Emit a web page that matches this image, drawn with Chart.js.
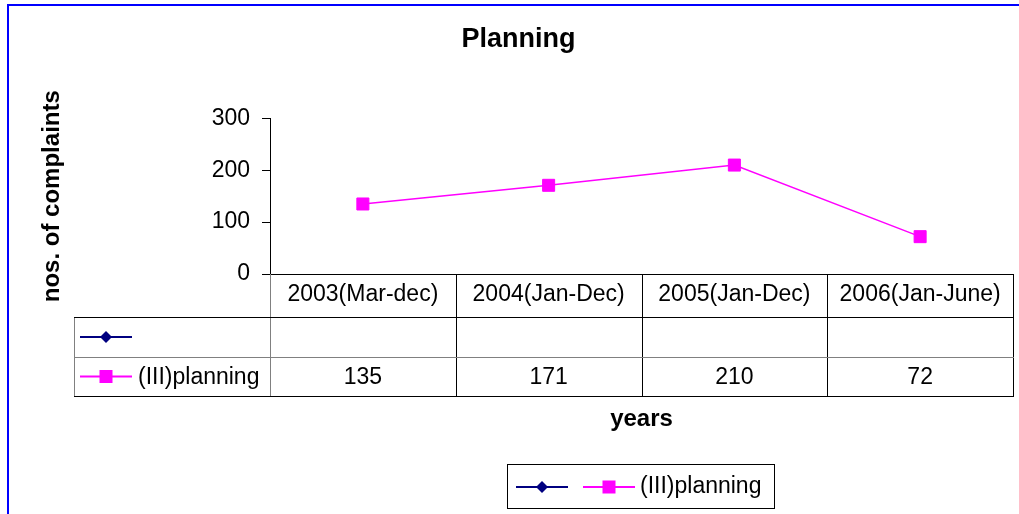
<!DOCTYPE html>
<html>
<head>
<meta charset="utf-8">
<title>Planning</title>
<script src="https://cdn.jsdelivr.net/npm/chart.js@4"></script>
<style>
  html, body { margin: 0; padding: 0; background: #fff; }
  #wrap { width: 1019px; height: 514px; }
</style>
</head>
<body>
<div id="wrap"><canvas id="chart" width="1019" height="514"></canvas></div>
<script>
// data
let periods = ['2003(Mar-dec)', '2004(Jan-Dec)', '2005(Jan-Dec)', '2006(Jan-June)']
let blankSeries = []            // empty series, only its marker shows
let planning = [135, 171, 210, 72]
let yTicks = [0, 100, 200, 300]

const FONT = '"Liberation Sans", Arial, sans-serif'
const NAVY = '#000080'
const MAGENTA = '#ff00ff'

// line + marker swatch like the excel legend keys
function drawKey(c, ds, cx, cy) {
    c.save()
    c.strokeStyle = ds.borderColor
    c.lineWidth = 2
    c.beginPath()
    c.moveTo(cx - 26, cy)
    c.lineTo(cx + 26, cy)
    c.stroke()
    c.fillStyle = ds.pointBackgroundColor
    if (ds.pointStyle == 'rectRot') {
        c.beginPath()
        c.moveTo(cx, cy - 6)
        c.lineTo(cx + 6, cy)
        c.lineTo(cx, cy + 6)
        c.lineTo(cx - 6, cy)
        c.closePath()
        c.fill()
    } else {
        c.fillRect(cx - 6.5, cy - 6.5, 13, 13)
    }
    c.restore()
}

function hline(c, x1, x2, y, col) {
    c.strokeStyle = col
    c.beginPath()
    c.moveTo(x1, Math.round(y) + 0.5)
    c.lineTo(x2, Math.round(y) + 0.5)
    c.stroke()
}
function vline(c, x, y1, y2, col) {
    c.strokeStyle = col
    c.beginPath()
    c.moveTo(Math.round(x) + 0.5, y1)
    c.lineTo(Math.round(x) + 0.5, y2)
    c.stroke()
}

const tablePlugin = {
    id: 'dataTable',
    beforeDraw(chart) {
        let c = chart.ctx
        c.save()
        c.fillStyle = '#fff'
        c.fillRect(0, 0, chart.width, chart.height)
        c.restore()
    },
    afterDraw(chart) {
        let c = chart.ctx
        let xs = chart.scales.x
        let area = chart.chartArea
        let n = periods.length
        let colW = xs.width / n
        let top = area.bottom
        let r1 = top + 43, r2 = r1 + 40, r3 = r2 + 39
        let left = 74
        c.save()
        c.lineWidth = 1
        // header columns
        for (let i = 0; i <= n; i++) {
            vline(c, xs.left + i * colW, top, r3, i == 0 ? '#808080' : '#000')
        }
        vline(c, left, r1, r3, '#808080')
        hline(c, left, xs.right + 1, r1, '#000')
        hline(c, left, xs.right + 1, r2, '#808080')
        hline(c, left, xs.right + 1, r3, '#000')

        // row keys and values
        let rows = [r1, r2]
        chart.data.datasets.forEach((ds, k) => {
            let cy = (rows[k] + (k == 0 ? r2 : r3)) / 2
            drawKey(c, ds, 106, cy)
            c.fillStyle = '#000'
            c.font = '23px ' + FONT
            c.textBaseline = 'middle'
            c.textAlign = 'left'
            if (ds.label) c.fillText(ds.label, 138, cy + 1)
            c.textAlign = 'center'
            ds.data.forEach((v, i) => {
                c.fillText(String(v), xs.getPixelForTick(i), cy + 1)
            })
        })

        // legend box
        let lx = 507, ly = 464, lw = 267, lh = 44
        c.strokeStyle = '#000'
        c.strokeRect(lx + 0.5, ly + 0.5, lw, lh)
        let ky = ly + lh / 2 + 1
        drawKey(c, chart.data.datasets[0], 542, ky)
        drawKey(c, chart.data.datasets[1], 609, ky)
        c.fillStyle = '#000'
        c.font = '23px ' + FONT
        c.textAlign = 'left'
        c.textBaseline = 'middle'
        c.fillText(chart.data.datasets[1].label, 640, ky)

        // blue frame
        c.fillStyle = '#0000ff'
        c.fillRect(7, 4, chart.width - 7, 2)
        c.fillRect(7, 4, 2, chart.height - 4)
        c.restore()
    }
}

let ctx = document.getElementById('chart').getContext('2d')
let myChart = new Chart(ctx, {
    type: 'line',
    data: {
        labels: periods,
        datasets: [{
            label: '',
            data: blankSeries,
            borderColor: NAVY,
            backgroundColor: NAVY,
            pointBackgroundColor: NAVY,
            pointStyle: 'rectRot',
            borderWidth: 2
        }, {
            label: '(III)planning',
            data: planning,
            borderColor: MAGENTA,
            backgroundColor: MAGENTA,
            pointBackgroundColor: MAGENTA,
            pointBorderColor: MAGENTA,
            pointStyle: 'rect',
            pointRadius: 8.5,
            pointBorderWidth: 1,
            borderWidth: 1.5,
            tension: 0
        }]
    },
    options: {
        responsive: false,
        animation: false,
        layout: { autoPadding: false, padding: { left: 24, right: 6, top: 0, bottom: 0 } },
        plugins: {
            legend: { display: false },
            tooltip: { enabled: false },
            title: {
                display: true,
                text: 'Planning',
                color: '#000',
                font: { family: FONT, size: 27, weight: 'bold' },
                padding: { top: 23, bottom: 63 }
            }
        },
        scales: {
            x: {
                offset: true,
                grid: { display: true, drawOnChartArea: false, drawTicks: false },
                border: { color: '#000', width: 1 },
                ticks: { color: '#000', padding: 7, maxRotation: 0, font: { family: FONT, size: 23 } },
                title: {
                    display: true,
                    text: 'years',
                    color: '#000',
                    font: { family: FONT, size: 24, weight: 'bold' },
                    padding: { top: 0, bottom: 80 }
                },
                afterFit(scale) {
                    scale.height = 240
                    scale.paddingLeft = 0
                    scale.paddingRight = 0
                }
            },
            y: {
                min: yTicks[0],
                max: yTicks[yTicks.length - 1],
                afterBuildTicks(scale) { scale.ticks = yTicks.map(v => ({ value: v })) },
                grid: { drawOnChartArea: false, drawTicks: true, tickLength: 8, color: '#000' },
                border: { color: '#000', width: 1 },
                ticks: { color: '#000', padding: 12, font: { family: FONT, size: 23 } },
                title: {
                    display: true,
                    text: 'nos. of complaints',
                    color: '#000',
                    font: { family: FONT, size: 24, weight: 'bold' },
                    padding: { top: 14, bottom: 0 }
                },
                afterFit(scale) { scale.width = 246 }
            }
        }
    },
    plugins: [tablePlugin]
})
</script>
</body>
</html>
